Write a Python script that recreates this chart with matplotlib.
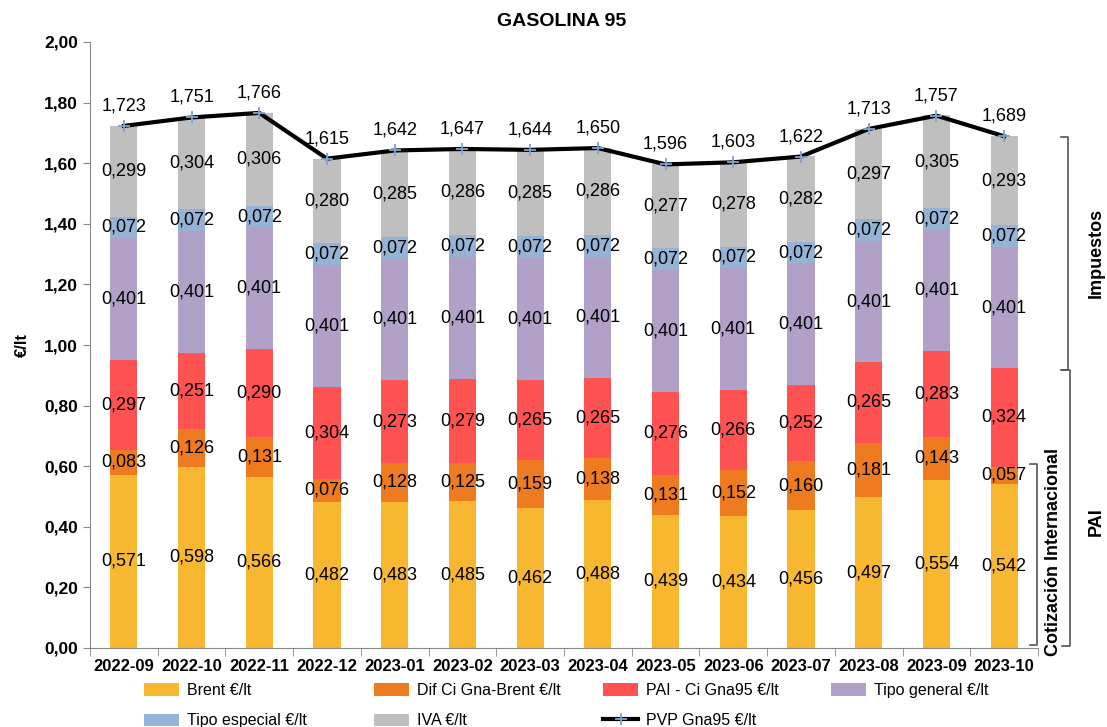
import numpy as np
import matplotlib
matplotlib.use("Agg")
import matplotlib.pyplot as plt
from matplotlib.lines import Line2D

plt.rcParams['font.family'] = ['Liberation Sans', 'DejaVu Sans']

meses = ["2022-09", "2022-10", "2022-11", "2022-12", "2023-01", "2023-02", "2023-03",
         "2023-04", "2023-05", "2023-06", "2023-07", "2023-08", "2023-09", "2023-10"]
brent = [0.571, 0.598, 0.566, 0.482, 0.483, 0.485, 0.462, 0.488, 0.439, 0.434, 0.456, 0.497, 0.554, 0.542]
dif_ci = [0.083, 0.126, 0.131, 0.076, 0.128, 0.125, 0.159, 0.138, 0.131, 0.152, 0.160, 0.181, 0.143, 0.057]
pai_ci = [0.297, 0.251, 0.290, 0.304, 0.273, 0.279, 0.265, 0.265, 0.276, 0.266, 0.252, 0.265, 0.283, 0.324]
tipo_general = [0.401] * 14
tipo_especial = [0.072] * 14
iva = [0.299, 0.304, 0.306, 0.280, 0.285, 0.286, 0.285, 0.286, 0.277, 0.278, 0.282, 0.297, 0.305, 0.293]
pvp = [1.723, 1.751, 1.766, 1.615, 1.642, 1.647, 1.644, 1.650, 1.596, 1.603, 1.622, 1.713, 1.757, 1.689]

series = [
    ("Brent €/lt", brent, "#F7B731"),
    ("Dif Ci Gna-Brent €/lt", dif_ci, "#EE7B1F"),
    ("PAI - Ci Gna95 €/lt", pai_ci, "#FF5252"),
    ("Tipo general €/lt", tipo_general, "#B1A0C7"),
    ("Tipo especial €/lt", tipo_especial, "#95B3D7"),
    ("IVA €/lt", iva, "#BFBFBF"),
]

W, H = 1107, 727
fig = plt.figure(figsize=(W / 100, H / 100), dpi=100)

def fx(x):
    return x / W

def fy(y):
    return 1 - y / H

ax = fig.add_axes([fx(90), fy(648), fx(1038) - fx(90), fy(42) - fy(648)])

x = np.arange(len(meses))
bottom = np.zeros(len(meses))
handles = {}
for nombre, vals, color in series:
    vals = np.array(vals)
    b = ax.bar(x, vals, 0.4, bottom=bottom, color=color, label=nombre, zorder=2)
    handles[nombre] = b
    for xi, v, b0 in zip(x, vals, bottom):
        ax.text(xi, b0 + v / 2, f"{v:.3f}".replace(".", ","), ha="center", va="center",
                fontsize=13, zorder=4)
    bottom += vals

linea, = ax.plot(x, pvp, color="black", lw=3, marker="+", markersize=9,
                 markeredgecolor="#7FA3D0", markeredgewidth=1.3, zorder=3, label="PVP Gna95 €/lt")
handles["PVP Gna95 €/lt"] = linea
for xi, v in zip(x, pvp):
    ax.text(xi, v + 0.066, f"{v:.3f}".replace(".", ","), ha="center", va="center", fontsize=13, zorder=4)

ax.set_xlim(-0.5, len(meses) - 0.5)
ax.set_ylim(0, 2.0)
ax.set_yticks(np.arange(0, 2.01, 0.2))
ax.set_yticklabels([f"{v:.2f}".replace(".", ",") for v in np.arange(0, 2.01, 0.2)],
                   fontsize=12.5, fontweight="bold")
ax.set_xticks(x)
ax.set_xticklabels(meses, fontsize=12, fontweight="bold")
ax.set_xticks(np.arange(-0.5, len(meses), 1), minor=True)
ax.tick_params(axis="x", which="major", length=0, pad=8)
ax.tick_params(axis="x", which="minor", length=6, color="#888888")
ax.tick_params(axis="y", length=5, color="#888888")
for s in ["top", "right"]:
    ax.spines[s].set_visible(False)
for s in ["left", "bottom"]:
    ax.spines[s].set_color("#888888")

fig.text(fx(562), fy(22), "GASOLINA 95", ha="center", va="center", fontsize=14, fontweight="bold")
fig.text(fx(22), fy(345), "€/lt", ha="center", va="center", rotation=90, fontsize=12, fontweight="bold")

# corchetes de la derecha
def corchete(xv, y0, y1, xl, color="#555555"):
    fig.add_artist(Line2D([fx(xl), fx(xv), fx(xv), fx(xl)], [fy(y0), fy(y0), fy(y1), fy(y1)],
                          color=color, lw=1.2, transform=fig.transFigure))

corchete(1068, 137, 370, 1061)
corchete(1070, 370, 646, 1062)
corchete(1037, 464, 645, 1030)
fig.text(fx(1096), fy(253), "Impuestos", rotation=90, ha="center", va="center", fontsize=13, fontweight="bold")
fig.text(fx(1096), fy(522), "PAI", rotation=90, ha="center", va="center", fontsize=13, fontweight="bold")
fig.text(fx(1053), fy(552), "Cotización Internacional", rotation=90, ha="center", va="center",
         fontsize=13, fontweight="bold")

# leyenda en columnas fijas
columnas = [
    (152, ["Brent €/lt", "Tipo especial €/lt"]),
    (382, ["Dif Ci Gna-Brent €/lt", "IVA €/lt"]),
    (611, ["PAI - Ci Gna95 €/lt", "PVP Gna95 €/lt"]),
    (839, ["Tipo general €/lt"]),
]
for xc, nombres in columnas:
    fig.legend([handles[n] for n in nombres], nombres, loc="upper left",
               bbox_to_anchor=(fx(xc - 8), fy(683)), frameon=False, fontsize=11.5,
               handlelength=2.2, handleheight=0.8, handletextpad=0.5, labelspacing=0.95,
               borderaxespad=0, borderpad=0)

fig.savefig("out.png", dpi=100)
